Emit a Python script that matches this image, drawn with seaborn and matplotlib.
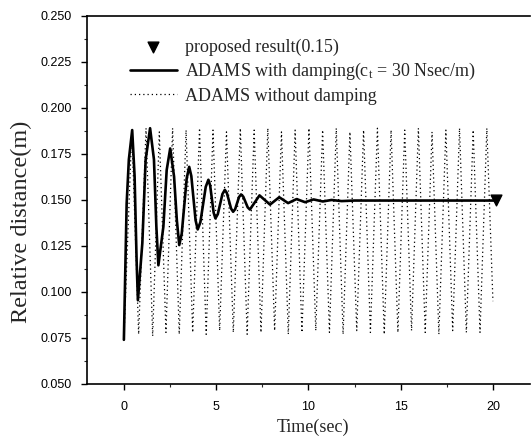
import pandas as pd
import matplotlib
matplotlib.use('Agg')
import matplotlib.pyplot as plt
import seaborn as sns

# damped response (ADAMS with damping)
t_damped = [0.0, 0.15, 0.27, 0.45, 0.58, 0.69, 0.76, 1.00, 1.18, 1.42, 1.63, 1.76,
            1.87, 2.14, 2.32, 2.51, 2.72, 2.87, 3.00, 3.135, 3.405, 3.54, 3.655,
            3.885, 4.00, 4.145, 4.435, 4.58, 4.675, 4.865, 4.96, 5.09, 5.34, 5.47,
            5.58, 5.81, 5.92, 6.03, 6.24, 6.35, 6.47, 6.71, 6.83, 7.35, 7.92, 8.42,
            8.90, 9.36, 9.82, 10.28, 10.78, 11.25, 11.80, 12.5, 14.0, 16.0, 18.0,
            20.15]
y_damped = [0.074, 0.148, 0.172, 0.188, 0.163, 0.117, 0.0955, 0.1266, 0.172, 0.189,
            0.172, 0.1355, 0.1145, 0.1355, 0.1663, 0.178, 0.1627, 0.139, 0.1255,
            0.1317, 0.1618, 0.168, 0.163, 0.139, 0.134, 0.1379, 0.1571, 0.161,
            0.1579, 0.1431, 0.140, 0.1423, 0.1532, 0.1555, 0.1538, 0.1453, 0.1436,
            0.145, 0.1516, 0.153, 0.1518, 0.146, 0.1448, 0.1525, 0.1475, 0.1515,
            0.1483, 0.1505, 0.1488, 0.1503, 0.1492, 0.1500, 0.1494, 0.1497, 0.1497,
            0.1497, 0.1497, 0.1497]

# undamped response (ADAMS without damping), peaks and troughs
t_peaks = [0.43, 1.20, 1.92, 2.64, 3.37, 4.10, 4.83, 5.56, 6.31, 7.06, 7.80, 8.54,
           9.28, 10.03, 10.77, 11.51, 12.25, 12.99, 13.74, 14.48, 15.22, 15.96,
           16.70, 17.45, 18.19, 18.93, 19.67]
y_peaks = [0.188, 0.189, 0.187, 0.189, 0.188, 0.189, 0.188, 0.187, 0.189, 0.188,
           0.189, 0.187, 0.188, 0.189, 0.188, 0.189, 0.187, 0.188, 0.189, 0.188,
           0.188, 0.189, 0.187, 0.188, 0.189, 0.188, 0.189]
t_troughs = [0.0, 0.80, 1.56, 2.28, 3.00, 3.73, 4.46, 5.19, 5.93, 6.68, 7.43, 8.17,
             8.91, 9.65, 10.40, 11.14, 11.88, 12.62, 13.36, 14.11, 14.85, 15.59,
             16.33, 17.07, 17.82, 18.56, 19.30]
y_troughs = [0.074, 0.077, 0.076, 0.078, 0.077, 0.078, 0.077, 0.079, 0.078, 0.077,
             0.078, 0.079, 0.077, 0.078, 0.079, 0.078, 0.077, 0.079, 0.078, 0.077,
             0.078, 0.079, 0.078, 0.077, 0.079, 0.078, 0.078]
t_end, y_end = 20.0, 0.095

# proposed result marker
t_prop, y_prop = 20.15, 0.15

t_free, y_free = [], []
for a, b, c, d in zip(t_troughs, y_troughs, t_peaks, y_peaks):
    t_free += [a, c]
    y_free += [b, d]
t_free.append(t_end)
y_free.append(y_end)

damped = pd.DataFrame({'t': t_damped, 'y': y_damped})
free = pd.DataFrame({'t': t_free, 'y': y_free})

sns.set_style('ticks')
plt.rcParams['font.family'] = ['Liberation Sans', 'DejaVu Sans']
plt.rcParams['mathtext.fontset'] = 'custom'
plt.rcParams['mathtext.rm'] = 'Liberation Serif'
plt.rcParams['mathtext.it'] = 'Liberation Serif:italic'

fig = plt.figure(figsize=(5.31, 4.48), dpi=100)
ax = fig.add_axes([0.1638, 0.1429, 0.834, 0.8214])

sns.lineplot(data=free, x='t', y='y', ax=ax, sort=False, color='black',
             linewidth=0.9, linestyle=(0, (1, 2.4)),
             label='ADAMS without damping')
sns.lineplot(data=damped, x='t', y='y', ax=ax, sort=False, color='black',
             linewidth=1.9,
             label=r'ADAMS with damping(c$_\mathrm{t}$ = 30 Nsec/m)')
ax.lines[-1].set_solid_joinstyle('round')
ax.scatter([t_prop], [y_prop], marker='v', s=60, color='black', zorder=5,
           label='proposed result(0.15)')

ax.set_xlim(-2, 22)
ax.set_ylim(0.05, 0.25)
ax.set_xticks([0, 5, 10, 15, 20])
ax.set_xticks([2.5, 7.5, 12.5, 17.5], minor=True)
ax.set_yticks([0.05 + 0.025 * i for i in range(9)])
ax.set_yticks([0.0625 + 0.025 * i for i in range(8)], minor=True)
ax.set_yticklabels(['%.3f' % (0.05 + 0.025 * i) for i in range(9)])
ax.tick_params(axis='both', which='major', direction='out', length=4, width=1,
               labelsize=9, colors='black')
ax.tick_params(axis='y', which='major', pad=7)
ax.tick_params(axis='x', which='major', pad=8)
ax.tick_params(axis='both', which='minor', direction='out', length=2.5, width=0.8)
for s in ['left', 'bottom', 'top']:
    ax.spines[s].set_linewidth(1.2)
    ax.spines[s].set_color('black')
ax.spines['right'].set_visible(False)

ax.set_xlabel('Time(sec)', family='Liberation Serif', fontsize=13)
ax.set_ylabel('Relative distance(m)', family='Liberation Serif', fontsize=17.5)
ax.xaxis.set_label_coords(0.51, -0.095)
ax.yaxis.set_label_coords(-0.124, 0.44)

h, l = ax.get_legend_handles_labels()
order = [2, 1, 0]
ax.legend([h[i] for i in order], [l[i] for i in order], loc='upper left',
          bbox_to_anchor=(0.097, 0.939), borderaxespad=0, borderpad=0,
          frameon=False, handlelength=2.6, handletextpad=0.45,
          labelspacing=0.3, prop={'family': 'Liberation Serif', 'size': 13})

fig.savefig('out.png', dpi=100)
